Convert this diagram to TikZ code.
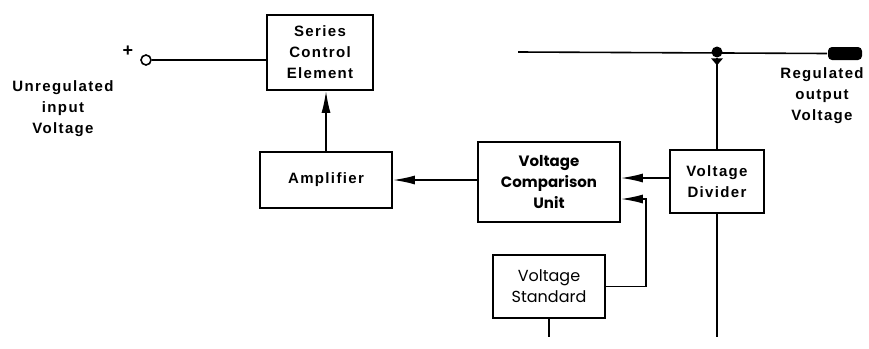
\documentclass[tikz,border=0pt]{standalone}
\usepackage{fontspec}
\setmainfont{Liberation Sans}
\newfontfamily\geofont{Poppins}
\usetikzlibrary{arrows.meta,positioning,calc}

\begin{document}
\begin{tikzpicture}[x=1pt, y=-1pt, line width=1.6pt,
  bloc/.style={draw, line width=1.8pt, inner sep=0pt, align=center},
  lbl/.style={font=\fontsize{15}{21}\selectfont\bfseries\addfontfeature{LetterSpace=9}, align=center},
  geo/.style={font=\fontsize{16}{21}\selectfont\geofont, align=center},
  geob/.style={font=\fontsize{15}{21}\selectfont\geofont\bfseries, align=center},
  sig/.style={-{Latex[length=22pt,width=9pt]}}]
  \useasboundingbox (0,0) rectangle (869,348);
  % Blocs
  \node[bloc, lbl, minimum width=106pt, minimum height=75pt] (sce) at (320,52.5) {Series\\Control\\Element};
  \node[bloc, lbl, minimum width=132pt, minimum height=56pt] (ampli) at (326,180) {Amplifier};
  \node[bloc, geob, minimum width=142pt, minimum height=80pt] (comp) at (549,182) {Voltage\\Comparison\\Unit};
  \node[bloc, geo, minimum width=112pt, minimum height=63pt] (stdv) at (549,286.5) {Voltage\\Standard};
  \node[bloc, lbl, minimum width=94pt, minimum height=63pt] (divi) at (717,181.5) {Voltage\\Divider};
  % Entree
  \node[draw, circle, minimum size=10pt, inner sep=0pt] (inp) at (146,60) {};
  \node[font=\fontsize{18}{21}\selectfont\bfseries] (plus) at (128,51) {+};
  \node[lbl] (uin) at (63,109) {Unregulated\\input\\Voltage};
  \draw (inp) -- (sce.west |- inp);
  % Sortie
  \coordinate (ostart) at (518,52);
  \node[fill, rounded corners=4pt, minimum width=34pt, minimum height=13pt, inner sep=0pt] (oterm) at (845,53.5) {};
  \node[fill, circle, minimum size=11pt, inner sep=0pt] (jdot) at (717,52) {};
  \node[lbl] (uout) at (822,96) {Regulated\\output\\Voltage};
  \draw (ostart) -- (oterm.west);
  \fill ($(jdot.south)+(-6,0)$) -- ++(12,0) -- ($(jdot.south)+(0,7)$) -- cycle;
  \draw (jdot) -- (divi.north);
  \coordinate (dbot) at (717,337);
  \coordinate (sbot) at (549,337);
  \draw (divi.south) -- (dbot);
  \draw (stdv.south) -- (sbot);
  % Boucle de regulation
  \draw[sig] ([yshift=3.5pt]divi.west) -- ([yshift=3.5pt]divi.west -| comp.east);
  \draw[sig] (stdv.east) -- ++(40,0) |- ([yshift=-17pt]comp.east);
  \draw[sig] (comp.west |- ampli.east) -- (ampli.east);
  \draw[sig] (ampli.north) -- (ampli.north |- sce.south);
\end{tikzpicture}
\end{document}
